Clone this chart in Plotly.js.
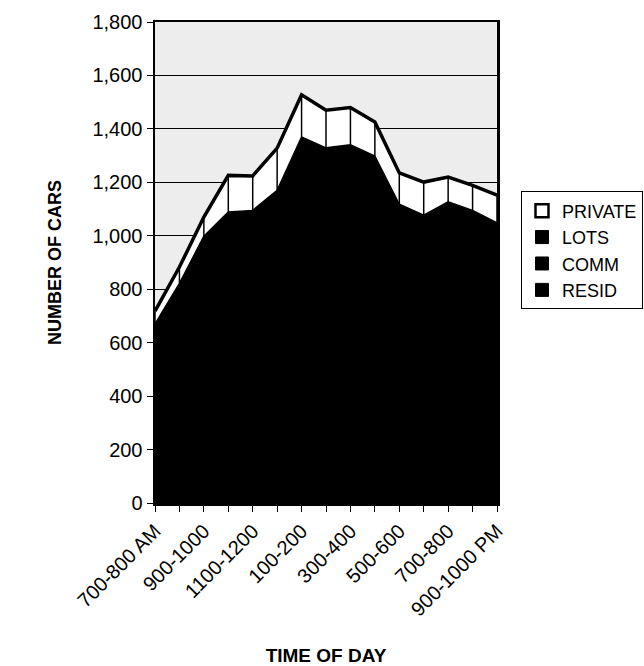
<!DOCTYPE html>
<html>
<head>
<meta charset="utf-8">
<script src="https://cdn.plot.ly/plotly-3.0.1.min.js"></script>
<style>html,body{margin:0;padding:0;background:#fff;}#chart{width:644px;height:666px;}</style>
</head>
<body>
<div id="chart"></div>
<script>
var categories = ['700-800 AM','800-900','900-1000','1000-1100','1100-1200','1200-100','100-200','200-300','300-400','400-500','500-600','600-700','700-800','800-900','900-1000 PM'];
var resid   = [400, 490, 600, 650, 655, 700, 820, 795, 800, 775, 670, 645, 675, 655, 630];
var comm    = [170, 210, 250, 275, 275, 295, 345, 335, 340, 330, 283, 272, 285, 277, 263];
var lots    = [100, 122, 148, 164, 165, 175, 205, 199, 201, 193, 165, 160, 167, 163, 155];
var privateCars = [48, 61, 72, 137, 129, 158, 158, 141, 139, 128, 117, 124, 93, 94, 104];
var yTickVals = [0, 200, 400, 600, 800, 1000, 1200, 1400, 1600, 1800];

var idx = categories.map(function(c, i){ return i; });
var tickText = categories.map(function(c, i){ return i % 2 === 0 ? c : ''; });
var totals = idx.map(function(i){ return resid[i] + comm[i] + lots[i] + privateCars[i]; });
var zeros = idx.map(function(){ return 0; });

var FONT = 'Liberation Sans, Arial, sans-serif';

function area(name, vals, fill, lw) {
  return {x: idx, y: vals, name: name, type: 'scatter', mode: 'lines', stackgroup: 'one',
          fillcolor: fill, line: {color: '#000', width: lw, shape: 'linear'},
          showlegend: false, hoverinfo: 'skip'};
}
function legendItem(name, fill, border) {
  return {x: [null], y: [null], name: name, type: 'scatter', mode: 'markers',
          marker: {symbol: 'square', size: 13, color: fill, line: {color: '#000', width: border}}};
}

var traces = [
  area('RESID', resid, '#000', 2),
  area('COMM', comm, '#000', 2),
  area('LOTS', lots, '#000', 1.5),
  area('PRIVATE', privateCars, '#fff', 3.5),
  {x: idx, y: totals, type: 'scatter', mode: 'markers', marker: {size: 1, opacity: 0},
   showlegend: false, hoverinfo: 'skip',
   error_y: {type: 'data', symmetric: false, array: zeros, arrayminus: privateCars,
             color: '#000', thickness: 1.5, width: 0}},
  legendItem('PRIVATE', '#fff', 2.5),
  legendItem('LOTS', '#000', 1),
  legendItem('COMM', '#000', 1),
  legendItem('RESID', '#000', 1)
];

var layout = {
  width: 644, height: 666,
  margin: {l: 155, r: 147, t: 22, b: 163},
  paper_bgcolor: '#fff',
  plot_bgcolor: '#ededed',
  font: {family: FONT, color: '#000', size: 20},
  showlegend: true,
  legend: {xref: 'container', x: 0.809, xanchor: 'left', yref: 'paper', y: 0.525, yanchor: 'middle',
           traceorder: 'normal', bgcolor: '#fff', bordercolor: '#000', borderwidth: 1,
           font: {family: FONT, size: 18, color: '#000'}, itemwidth: 30},
  xaxis: {
    type: 'linear', range: [0, 14], tickmode: 'array', tickvals: idx, ticktext: tickText,
    tickangle: -45, ticks: 'outside', ticklen: 6, tickwidth: 1, tickcolor: '#000',
    showline: true, linecolor: '#000', linewidth: 2.5, mirror: true,
    showgrid: false, zeroline: false,
    tickfont: {family: FONT, size: 20, color: '#000'},
    title: {text: '<b>TIME OF DAY</b>', font: {family: FONT, size: 19, color: '#000'}, standoff: 30}
  },
  yaxis: {
    range: [0, 1800], tickmode: 'array', tickvals: yTickVals, tickformat: ',d',
    ticks: 'outside', ticklen: 6, tickwidth: 1, tickcolor: '#000',
    showline: true, linecolor: '#000', linewidth: 2.5, mirror: true,
    showgrid: true, gridcolor: '#000', gridwidth: 1, zeroline: false,
    tickfont: {family: FONT, size: 20, color: '#000'},
    title: {text: '<b>NUMBER OF CARS</b>', font: {family: FONT, size: 18, color: '#000'}, standoff: 26}
  }
};

Plotly.newPlot('chart', traces, layout, {displayModeBar: false, staticPlot: true});
</script>
</body>
</html>
